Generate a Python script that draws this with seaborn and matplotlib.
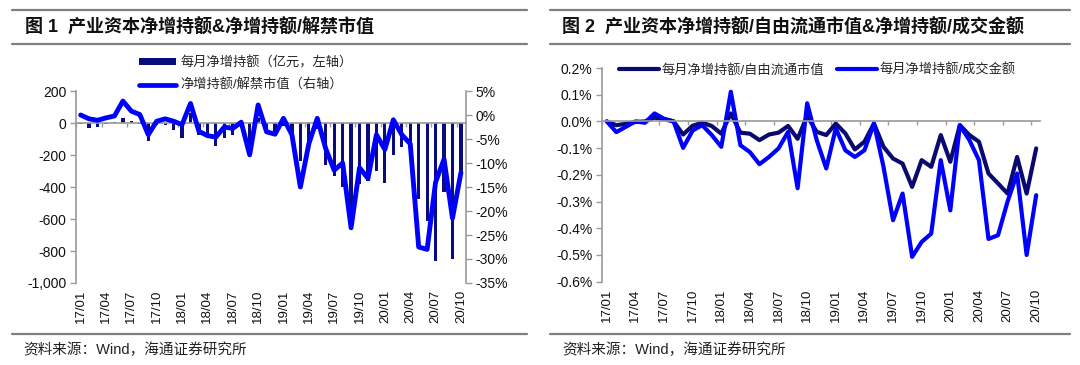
import numpy as np
import pandas as pd
import matplotlib
matplotlib.use("Agg")
import matplotlib.pyplot as plt
import seaborn as sns
from matplotlib.lines import Line2D
from matplotlib.patches import Patch
from matplotlib.ticker import FixedLocator, FuncFormatter

# ---------------- data ----------------
months = ["17/01", "17/02", "17/03", "17/04", "17/05", "17/06", "17/07", "17/08", "17/09", "17/10", "17/11", "17/12",
          "18/01", "18/02", "18/03", "18/04", "18/05", "18/06", "18/07", "18/08", "18/09", "18/10", "18/11", "18/12",
          "19/01", "19/02", "19/03", "19/04", "19/05", "19/06", "19/07", "19/08", "19/09", "19/10", "19/11", "19/12",
          "20/01", "20/02", "20/03", "20/04", "20/05", "20/06", "20/07", "20/08", "20/09", "20/10"]

# 每月净增持额（亿元）
net_increase = [-5, -32, -22, -5, 5, 30, 15, -5, -110, -10, -15, -42,
                -95, 60, -75, -90, -143, -95, -75, -30, -160, 30, -60, -60,
                -20, -90, -240, -160, -40, -260, -330, -400, -650, -380, -360, -300,
                -375, -200, -150, -200, -475, -615, -860, -430, -850, -310]

# 净增持额/解禁市值（%）
net_to_unlock = [0.0, -0.8, -1.1, -0.6, -0.2, 2.9, 0.8, 0.1, -4.1, -1.3, -0.8, -1.3,
                 -2.0, 2.4, -3.4, -4.3, -4.6, -2.5, -2.8, -1.5, -8.3, 2.1, -3.5, -4.0,
                 -0.7, -4.1, -15.0, -6.0, -0.7, -7.0, -11.5, -10.0, -23.5, -11.0, -13.2, -4.1,
                 -7.2, -1.0, -4.1, -6.0, -27.5, -28.0, -14.0, -9.2, -21.5, -12.0]

# 每月净增持额/自由流通市值（%）
net_to_freefloat = [0.0, -0.014, -0.009, -0.002, 0.0, 0.014, 0.009, 0.0, -0.049, -0.016, -0.005, -0.017,
                    -0.046, 0.030, -0.042, -0.046, -0.070, -0.049, -0.042, -0.017, -0.065, 0.020, -0.039, -0.051,
                    -0.008, -0.045, -0.105, -0.076, -0.008, -0.095, -0.139, -0.158, -0.245, -0.145, -0.170, -0.051,
                    -0.151, -0.014, -0.051, -0.076, -0.195, -0.232, -0.270, -0.133, -0.270, -0.101]

# 每月净增持额/成交金额（%）
net_to_turnover = [0.0, -0.040, -0.020, 0.0, -0.005, 0.030, 0.010, 0.0, -0.099, -0.034, -0.014, -0.051,
                   -0.095, 0.111, -0.089, -0.115, -0.160, -0.133, -0.101, -0.039, -0.250, 0.068, -0.070, -0.176,
                   -0.026, -0.108, -0.133, -0.108, -0.008, -0.170, -0.370, -0.270, -0.507, -0.451, -0.420, -0.145,
                   -0.333, -0.014, -0.070, -0.145, -0.440, -0.426, -0.300, -0.195, -0.500, -0.276]

left_yticks = [200, 0, -200, -400, -600, -800, -1000]
right_yticks = [5, 0, -5, -10, -15, -20, -25, -30, -35]
fig2_yticks = [0.2, 0.1, 0.0, -0.1, -0.2, -0.3, -0.4, -0.5, -0.6]

title1 = "图 1  产业资本净增持额&净增持额/解禁市值"
title2 = "图 2  产业资本净增持额/自由流通市值&净增持额/成交金额"
source = "资料来源：Wind，海通证券研究所"
leg1_bar = "每月净增持额（亿元，左轴）"
leg1_line = "净增持额/解禁市值（右轴）"
leg2_a = "每月净增持额/自由流通市值"
leg2_b = "每月净增持额/成交金额"

# ---------------- style ----------------
sns.set_theme(style="white")
plt.rcParams["font.family"] = ["Liberation Sans", "Noto Sans CJK SC", "DejaVu Sans"]
plt.rcParams["axes.unicode_minus"] = False

NAVY = "#0B0B80"
DARK = "#0A0A6E"
BLUE = "#0000FF"
GRAY = "#9A9A9A"
RULE = "#7F7F7F"

W, H = 1080, 365
fig = plt.figure(figsize=(W / 100, H / 100), dpi=100)
fig.patch.set_facecolor("white")

def fx(px):
    return px / W

def fy(py):
    return 1 - py / H

df = pd.DataFrame({
    "month": months,
    "pos": np.arange(len(months)),
    "net": net_increase,
    "unlock": net_to_unlock,
    "freefloat": net_to_freefloat,
    "turnover": net_to_turnover,
})

tick_pos = list(range(0, len(months), 3))
tick_lab = [months[i] for i in tick_pos]
boundary_ticks = [p + 2.5 for p in range(-3, len(months), 3) if -0.5 <= p + 2.5 <= len(months) - 0.5]

def style_xaxis(ax, xlim):
    ax.set_xlim(*xlim)
    # zero line with small tick marks
    ax.spines["bottom"].set_position(("data", 0))
    ax.spines["bottom"].set_color(GRAY)
    ax.spines["bottom"].set_linewidth(1.2)
    ax.xaxis.set_major_locator(FixedLocator(boundary_ticks))
    ax.tick_params(axis="x", which="major", length=3, width=1, color=GRAY,
                   direction="out", labelbottom=False, bottom=True)
    # labels at the bottom
    sec = ax.secondary_xaxis("bottom")
    sec.set_xticks(tick_pos)
    sec.set_xticklabels(tick_lab, rotation=90, fontsize=9.5, color="#111111")
    sec.tick_params(axis="x", length=0, pad=5)
    sec.spines["bottom"].set_visible(False)
    return sec

# ---------------- chart 1 ----------------
ax1 = fig.add_axes([fx(76), fy(283), fx(466 - 76), (283 - 91) / H])
sns.barplot(data=df, x="pos", y="net", ax=ax1, color=NAVY, width=0.38,
            saturation=1, native_scale=True, edgecolor="none")
ax1.set_ylim(-1000, 200)
ax1.set_yticks(left_yticks)
ax1.yaxis.set_major_formatter(FuncFormatter(lambda v, p: f"{int(v):,}"))
ax1.set_xlabel("")
ax1.set_ylabel("")
for s in ["top", "right"]:
    ax1.spines[s].set_visible(False)
ax1.spines["left"].set_color(GRAY)
ax1.spines["left"].set_linewidth(1.2)
ax1.tick_params(axis="y", which="major", length=4, width=1, color=GRAY,
                direction="out", labelsize=10, labelcolor="#111111", pad=3, left=True)
style_xaxis(ax1, (-0.55, 45.6))

ax1b = ax1.twinx()
sns.lineplot(data=df, x="pos", y="unlock", ax=ax1b, color=BLUE, linewidth=3.5,
             solid_joinstyle="round", solid_capstyle="round")
ax1b.set_ylim(-35, 5)
ax1b.set_yticks(right_yticks)
ax1b.yaxis.set_major_formatter(FuncFormatter(lambda v, p: f"{int(round(v))}%"))
ax1b.set_xlabel("")
ax1b.set_ylabel("")
for s in ["top", "left", "bottom"]:
    ax1b.spines[s].set_visible(False)
ax1b.spines["right"].set_color(GRAY)
ax1b.spines["right"].set_linewidth(1.2)
ax1b.tick_params(axis="y", which="major", length=4, width=1, color=GRAY,
                 direction="out", labelsize=10, labelcolor="#111111", pad=3, right=True)
ax1b.set_xlim(-0.55, 45.6)
ax1b.grid(False)
ax1.grid(False)

h1 = [Patch(facecolor=NAVY, edgecolor="none"), Line2D([], [], color=BLUE, linewidth=3.4)]
fig.legend(h1, [leg1_bar, leg1_line], loc="upper left",
           bbox_to_anchor=(fx(139), fy(56)), bbox_transform=fig.transFigure,
           frameon=False, fontsize=9.5, handlelength=2.8, handleheight=0.45,
           handletextpad=0.35, labelspacing=0.75, borderaxespad=0, borderpad=0)

# ---------------- chart 2 ----------------
ax2 = fig.add_axes([fx(602), fy(281.7), fx(1040 - 602), (281.7 - 68) / H])
sns.lineplot(data=df, x="pos", y="freefloat", ax=ax2, color=DARK, linewidth=3.0,
             solid_joinstyle="round", solid_capstyle="round", label=leg2_a)
sns.lineplot(data=df, x="pos", y="turnover", ax=ax2, color=BLUE, linewidth=3.0,
             solid_joinstyle="round", solid_capstyle="round", label=leg2_b)
ax2.set_ylim(-0.6, 0.2)
ax2.set_yticks(fig2_yticks)
ax2.yaxis.set_major_formatter(FuncFormatter(lambda v, p: f"{v:.1f}%"))
ax2.set_xlabel("")
ax2.set_ylabel("")
for s in ["top", "right"]:
    ax2.spines[s].set_visible(False)
ax2.spines["left"].set_color(GRAY)
ax2.spines["left"].set_linewidth(1.2)
ax2.tick_params(axis="y", which="major", length=4, width=1, color=GRAY,
                direction="out", labelsize=10, labelcolor="#111111", pad=3, left=True)
style_xaxis(ax2, (-0.5, 45.4))
ax2.grid(False)
ax2.legend(loc="upper left", bbox_to_anchor=(fx(619), fy(64)), bbox_transform=fig.transFigure,
           ncol=2, frameon=False, fontsize=9.5, handlelength=3.0, handletextpad=0.2,
           columnspacing=1.0, borderaxespad=0, borderpad=0)

# ---------------- frame decorations ----------------
for (x0, x1, tx) in [(12, 527, 23), (550, 1070, 562)]:
    for yy in (10, 44, 334):
        fig.add_artist(Line2D([fx(x0), fx(x1)], [fy(yy), fy(yy)], transform=fig.transFigure,
                              color=RULE, linewidth=1.6))
    fig.text(fx(tx), fy(350), source, fontsize=10.5, color="#222222", va="center", ha="left")

fig.text(fx(25), fy(27.5), title1, fontsize=13, fontweight="bold", color="#111111",
         va="center", ha="left")
fig.text(fx(562), fy(27.5), title2, fontsize=13, fontweight="bold", color="#111111",
         va="center", ha="left")

fig.savefig("out.png", dpi=100, facecolor="white")
